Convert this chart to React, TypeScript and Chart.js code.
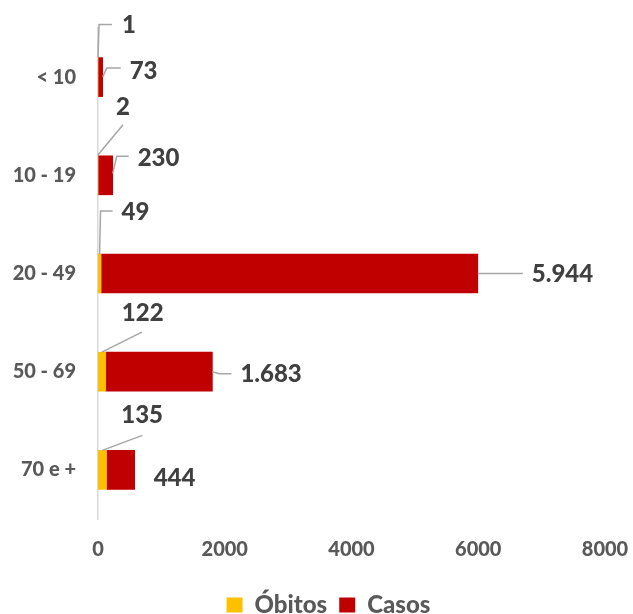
import React, { useEffect, useRef } from "react";
import { Chart, registerables } from "chart.js";

Chart.register(...registerables);

const categories: string[] = ["< 10", "10 - 19", "20 - 49", "50 - 69", "70 e +"];
const obitos: number[] = [1, 2, 49, 122, 135];
const casos: number[] = [73, 230, 5944, 1683, 444];
const xTicks: number[] = [0, 2000, 4000, 6000, 8000];

const FONT = "Lato, 'Open Sans', sans-serif";
const COL_OBITOS = "#FFC000";
const COL_CASOS = "#C00000";
const LABEL_COLOR = "#404040";
const AXIS_COLOR = "#595959";
const LEADER_COLOR = "#A6A6A6";
const LEGEND_SHIFT = 26;

// label placement (offsets from the bar anchor) – styling only
type LabelLayout = { text: [number, number]; leader: [number, number][] };
const obitosLabelLayout: LabelLayout[] = [
  { text: [24, -32], leader: [[0, 0], [1, -33], [14, -33]] },
  { text: [18, -49], leader: [[0, -1], [25, -31]] },
  { text: [22, -42], leader: [[0, 0], [1, -43], [13, -43]] },
  { text: [20, -39], leader: [[0, 0], [40, -20]] },
  { text: [19, -35], leader: [[0, 0], [40, -15]] },
];
const casosLabelLayout: LabelLayout[] = [
  { text: [27, -6], leader: [[0, 0], [4, -9], [18, -9]] },
  { text: [25, -17], leader: [[0, -2], [4, -19], [16, -19]] },
  { text: [54, 1], leader: [[0, 0], [45, 0]] },
  { text: [28, 3], leader: [[0, 0], [7, 2], [19, 2]] },
  { text: [19, 8], leader: [] },
];

function fmt(v: number): string {
  return String(v).replace(/\B(?=(\d{3})+(?!\d))/g, ".");
}

const labelPlugin = {
  id: "customLabels",
  afterLayout(chart: any) {
    if (chart.legend) {
      chart.legend.left += LEGEND_SHIFT;
      chart.legend.right += LEGEND_SHIFT;
    }
  },
  afterDatasetsDraw(chart: any) {
    const ctx = chart.ctx;
    ctx.save();
    ctx.font = `900 24px ${FONT}`;
    ctx.fillStyle = LABEL_COLOR;
    ctx.textAlign = "left";
    ctx.textBaseline = "middle";
    ctx.strokeStyle = LEADER_COLOR;
    ctx.lineWidth = 1.5;
    chart.data.datasets.forEach((ds: any, di: number) => {
      const meta = chart.getDatasetMeta(di);
      const layouts = di === 0 ? obitosLabelLayout : casosLabelLayout;
      meta.data.forEach((bar: any, i: number) => {
        const p = bar.getProps(["x", "y", "base", "height"], true);
        let ax: number, ay: number;
        if (di === 0) {
          ax = (p.base + p.x) / 2;
          ay = p.y - p.height / 2;
        } else {
          ax = p.x;
          ay = p.y;
        }
        const lay = layouts[i];
        if (lay.leader.length > 1) {
          ctx.beginPath();
          lay.leader.forEach((pt, k) => {
            if (k === 0) ctx.moveTo(ax + pt[0], ay + pt[1]);
            else ctx.lineTo(ax + pt[0], ay + pt[1]);
          });
          ctx.stroke();
        }
        ctx.fillText(fmt(ds.data[i]), ax + lay.text[0], ay + lay.text[1]);
      });
    });
    ctx.restore();
  },
};

export default function App() {
  const ref = useRef<HTMLCanvasElement | null>(null);
  useEffect(() => {
    if (!ref.current) return;
    const chart = new Chart(ref.current, {
      type: "bar",
      data: {
        labels: categories,
        datasets: [
          { label: "Óbitos", data: obitos, backgroundColor: COL_OBITOS, barThickness: 39 },
          { label: "Casos", data: casos, backgroundColor: COL_CASOS, barThickness: 39 },
        ],
      },
      options: {
        indexAxis: "y",
        responsive: false,
        animation: false,
        devicePixelRatio: 1,
        layout: { padding: { left: 0, right: 28, top: 28, bottom: -13 } },
        plugins: {
          tooltip: { enabled: false },
          legend: {
            position: "bottom",
            labels: {
              font: { family: FONT, size: 24, weight: "900" },
              color: AXIS_COLOR,
              boxWidth: 16,
              boxHeight: 15,
              padding: 12,
            },
          },
        },
        scales: {
          x: {
            stacked: true,
            min: 0,
            max: 8000,
            afterBuildTicks: (scale: any) => {
              scale.ticks = xTicks.map((v) => ({ value: v }));
            },
            afterFit: (scale: any) => {
              scale.paddingLeft = 0;
              scale.paddingRight = 0;
            },
            ticks: {
              font: { family: FONT, size: 20, weight: "900" },
              color: AXIS_COLOR,
              padding: 19,
              maxRotation: 0,
              callback: (v: any) => String(v),
            },
            grid: { display: false, drawTicks: false },
            border: { display: false },
          },
          y: {
            stacked: true,
            ticks: {
              font: { family: FONT, size: 20, weight: "900" },
              color: AXIS_COLOR,
              padding: 22,
            },
            grid: { display: false, drawTicks: false },
            border: { display: true, color: "#D9D9D9", width: 1.5 },
            afterFit: (scale: any) => {
              scale.width = 98;
              scale.paddingTop = 0;
              scale.paddingBottom = 0;
            },
          },
        },
      },
      plugins: [labelPlugin],
    });
    return () => chart.destroy();
  }, []);
  return (
    <div style={{ position: "absolute", left: 0, top: 0, width: 633, height: 614, background: "#fff" }}>
      <canvas ref={ref} width={633} height={614} />
    </div>
  );
}
